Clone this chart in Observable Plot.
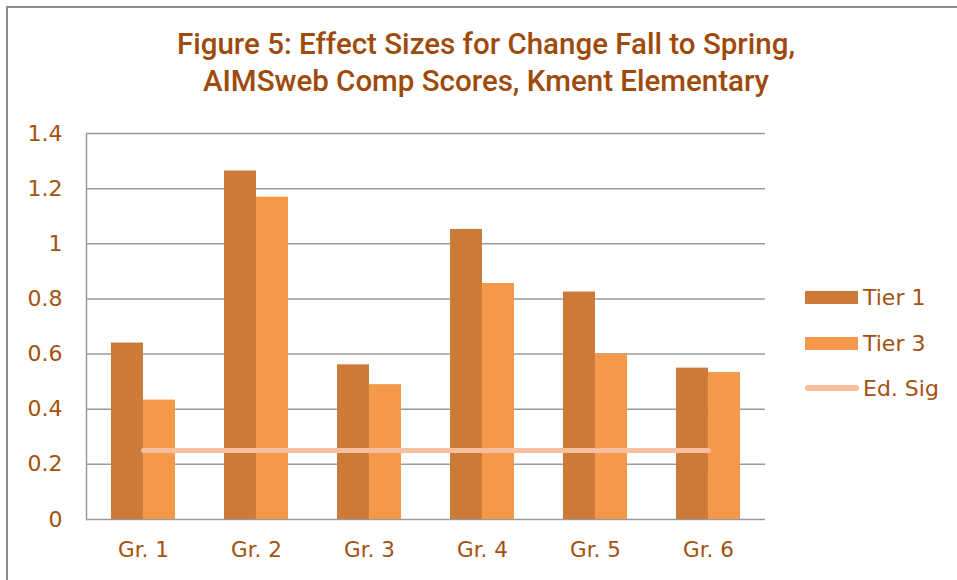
<!DOCTYPE html>
<html><head><meta charset="utf-8">
<script src="https://cdn.jsdelivr.net/npm/d3@7"></script>
<script src="https://cdn.jsdelivr.net/npm/@observablehq/plot@0.6"></script>
<style>
body{margin:0;background:#fff;}
#wrap{position:relative;width:957px;height:580px;overflow:hidden;font-family:"DejaVu Sans",sans-serif;background:#fff;}
#border{position:absolute;left:6px;top:6px;width:980px;height:620px;border:2px solid #8c8c8c;box-sizing:border-box;}
#title{position:absolute;left:6px;width:960px;top:26px;text-align:center;font-family:Roboto;font-weight:500;font-size:29.5px;color:#9E4A0B;line-height:37px;}
#chart{position:absolute;left:0;top:100px;}
.leg{position:absolute;left:805px;height:24px;display:flex;align-items:center;font-size:22px;color:#A3510F;}
.sw{width:53px;height:13px;margin-right:5px;}
.ln{width:54px;height:6px;border-radius:3px;margin-right:4px;}
</style></head>
<body>
<div id="wrap">
<div id="border"></div>
<div id="title">Figure 5: Effect Sizes for Change Fall to Spring,<br>AIMSweb Comp Scores, Kment Elementary</div>
<div id="chart"></div>
<div id="legend"></div>
</div>
<script>
const grades = ["Gr. 1","Gr. 2","Gr. 3","Gr. 4","Gr. 5","Gr. 6"];
const tier1 = [0.64, 1.264, 0.561, 1.052, 0.825, 0.549];
const tier3 = [0.433, 1.169, 0.489, 0.856, 0.600, 0.533];
const edSig = [0.25, 0.25, 0.25, 0.25, 0.25, 0.25];
const yTicks = [0, 0.2, 0.4, 0.6, 0.8, 1, 1.2, 1.4];
const seriesNames = ["Tier 1", "Tier 3", "Ed. Sig"];
const colors = ["#CC7A38", "#F59849", "#F7BEA0"];

const t1 = grades.map((g,i)=>({grade:g, value:tier1[i]}));
const t3 = grades.map((g,i)=>({grade:g, value:tier3[i]}));
const sig = grades.map((g,i)=>({grade:g, value:edSig[i]}));

const W = 957, H = 469, mL = 86, mR = 192, mT = 33, mB = 50;
const pIn = 0.434, pOut = 0.217;
const step = (W - mL - mR) / (grades.length - pIn + 2*pOut);
const half = step * (1 - pIn) / 2;
const txt = "#A3510F";

const chart = Plot.plot({
  width: W, height: H,
  marginLeft: mL, marginRight: mR, marginTop: mT, marginBottom: mB,
  style: {fontFamily: "DejaVu Sans", fontSize: "22px", color: txt, background: "transparent"},
  x: {type: "band", domain: grades, paddingInner: pIn, paddingOuter: pOut, label: null},
  y: {domain: [0, 1.4], label: null},
  marks: [
    Plot.gridY(yTicks, {stroke: "#9a9a9a", strokeOpacity: 1, strokeWidth: 1.5}),
    Plot.frame({anchor: "left", stroke: "#9a9a9a", strokeWidth: 1.5}),
    Plot.barY(t1, {x: "grade", y: "value", fill: colors[0], insetRight: half, insetLeft: 0}),
    Plot.barY(t3, {x: "grade", y: "value", fill: colors[1], insetLeft: half, insetRight: 0}),
    Plot.lineY(sig, {x: "grade", y: "value", stroke: colors[2], strokeWidth: 5, strokeLinecap: "round"}),
    Plot.axisY(yTicks, {tickSize: 0, tickPadding: 24, tickFormat: d => String(d), fill: txt, fontSize: 22}),
    Plot.axisX({tickSize: 0, tickPadding: 22, fill: txt, fontSize: 21.5})
  ]
});
document.getElementById("chart").appendChild(chart);

const leg = document.getElementById("legend");
const tops = [285, 331, 376];
seriesNames.forEach((n,i)=>{
  const d = document.createElement("div");
  d.className = "leg";
  d.style.top = tops[i] + "px";
  const s = document.createElement("div");
  s.className = i < 2 ? "sw" : "ln";
  s.style.background = colors[i];
  d.appendChild(s);
  const t = document.createElement("span");
  t.textContent = n;
  d.appendChild(t);
  leg.appendChild(d);
});
</script>
</body></html>
